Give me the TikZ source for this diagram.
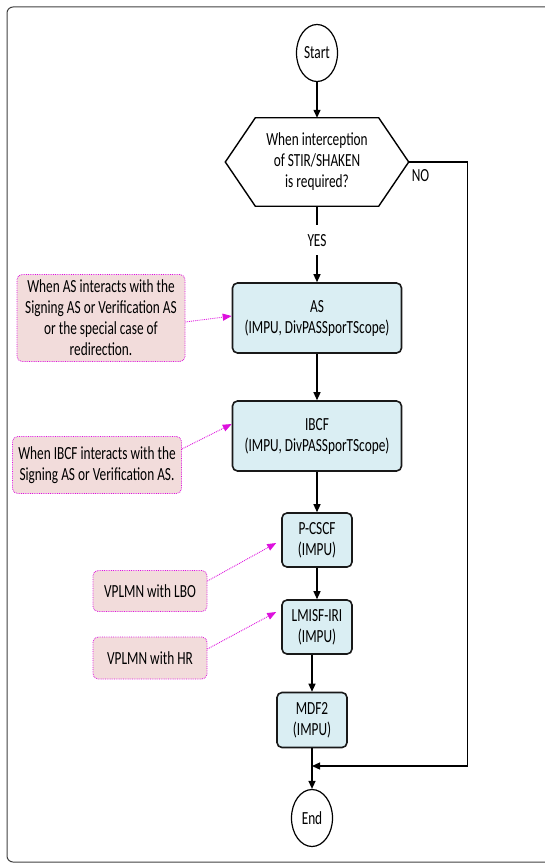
\documentclass[tikz,border=0pt]{standalone}
\usepackage{fontspec}
\setmainfont{Carlito}[FakeStretch=0.72]
\usetikzlibrary{arrows.meta,shapes.geometric}
\definecolor{boxblue}{HTML}{DAEEF3}
\definecolor{notepink}{HTML}{F2DCDB}
\definecolor{notemag}{HTML}{DD11DD}
\begin{document}
\begin{tikzpicture}[x=1pt, y=-1pt,
    font=\fontsize{18.5}{21}\selectfont,
    every node/.style={align=center},
    flow/.style={draw=black!90, line width=1.6pt, rounded corners=5pt, fill=boxblue, inner sep=0pt},
    term/.style={draw=black, line width=1.2pt, ellipse, minimum width=41pt, minimum height=57pt, inner sep=0pt},
    note/.style={draw=notemag, densely dotted, line width=0.8pt, rounded corners=5pt, fill=notepink, inner sep=0pt},
    flowline/.style={draw, line width=1.3pt, -{Triangle[length=8pt,width=7pt]}},
    notearrow/.style={draw=notemag, densely dotted, line width=0.9pt, -{Triangle[length=9pt,width=7pt]}}]
  \useasboundingbox (0,0) rectangle (545,864);
  \draw[black!75, line width=1pt, rounded corners=6pt] (545,7) -- (7,7) -- (7,862) -- (545,862);

  % Nodes
  \node[term] (start) at (317,53) {Start};
  \node[minimum width=183pt, minimum height=88pt, inner sep=0pt] (dec) at (317,162) {When interception\\of STIR/SHAKEN\\is required?};
  \draw[line width=1.4pt] ([xshift=30pt]dec.north west) -- ([xshift=-30pt]dec.north east) -- (dec.east)
    -- ([xshift=-30pt]dec.south east) -- ([xshift=30pt]dec.south west) -- (dec.west) -- cycle;
  \node[flow, minimum width=169pt, minimum height=70pt] (as) at (317,318) {AS\\(IMPU, DivPASSporTScope)};
  \node[flow, minimum width=169pt, minimum height=70pt] (ibcf) at (317,436) {IBCF\\(IMPU, DivPASSporTScope)};
  \node[flow, minimum width=70pt, minimum height=54pt] (pcscf) at (317,540) {P-CSCF\\(IMPU)};
  \node[flow, minimum width=70pt, minimum height=54pt] (lmisf) at (317,627) {LMISF-IRI\\(IMPU)};
  \node[flow, minimum width=70pt, minimum height=55pt] (mdf) at (312,720) {MDF2\\(IMPU)};
  \node[term] (end) at (312,818) {End};
  \coordinate (join) at (312,766);

  \node[note, minimum width=168pt, minimum height=87pt] (asnote) at (101,318) {When AS interacts with the\\Signing AS or Verification AS\\or the special case of\\redirection.};
  \node[note, minimum width=169pt, minimum height=57pt] (ibcfnote) at (97,465) {When IBCF interacts with the\\Signing AS or Verification AS.};
  \node[note, minimum width=114pt, minimum height=41pt] (lbo) at (150,591) {VPLMN with LBO};
  \node[note, minimum width=114pt, minimum height=42pt] (hr) at (150,658) {VPLMN with HR};

  % Arrows
  \draw[flowline] (start) -- (dec);
  \draw[flowline] (dec) to node[pos=0.45, fill=white, inner xsep=2pt, inner ysep=9pt] {YES} (as);
  \draw[flowline] (dec.east) -- node[below=4pt, pos=0.2] {NO} ++(59,0) |- (join);
  \draw[flowline] (as) -- (ibcf);
  \draw[flowline] (ibcf) -- (pcscf);
  \draw[flowline] (pcscf) -- (lmisf);
  \draw[flowline] (lmisf.south -| mdf) -- (mdf);
  \draw[flowline] (mdf) -- (end);

  \draw[notearrow] ([yshift=-4pt]asnote.east) -- ([yshift=2pt]as.west);
  \draw[notearrow] ([yshift=16pt]ibcfnote.east) -- ([yshift=12pt]ibcf.west);
  \draw[notearrow] ([yshift=10pt]lbo.east) -- ([xshift=-5pt, yshift=-3pt]pcscf.west);
  \draw[notearrow] ([yshift=9pt]hr.east) -- ([xshift=-5pt, yshift=15pt]lmisf.west);
\end{tikzpicture}
\end{document}
